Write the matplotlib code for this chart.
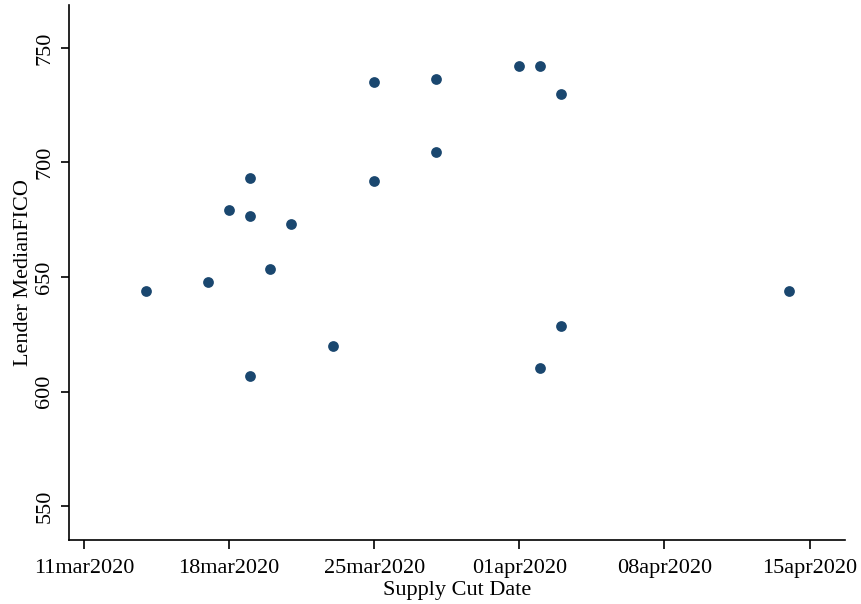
import numpy as np
import matplotlib
matplotlib.use("Agg")
from matplotlib import pyplot as plt
import matplotlib.dates as mdates

# supply cut dates and lender median FICO
cut_dates = ["2020-03-14", "2020-03-17", "2020-03-18", "2020-03-19", "2020-03-19",
             "2020-03-19", "2020-03-20", "2020-03-21", "2020-03-23", "2020-03-25",
             "2020-03-25", "2020-03-28", "2020-03-28", "2020-04-01", "2020-04-02",
             "2020-04-02", "2020-04-03", "2020-04-03", "2020-04-14"]
median_fico = [643.7, 647.6, 679.4, 693.4, 676.8,
               606.6, 653.7, 673.3, 619.7, 735.2,
               692.0, 736.5, 704.7, 742.2, 742.2,
               610.1, 730.0, 628.4, 643.7]

tick_dates = ["2020-03-11", "2020-03-18", "2020-03-25", "2020-04-01", "2020-04-08", "2020-04-15"]
tick_labels = ["11mar2020", "18mar2020", "25mar2020", "01apr2020", "08apr2020", "15apr2020"]
y_ticks = [550, 600, 650, 700, 750]

plt.rcParams["font.family"] = ["Liberation Serif", "DejaVu Serif"]

x = mdates.date2num(np.array(cut_dates, dtype="datetime64[D]"))
xt = mdates.date2num(np.array(tick_dates, dtype="datetime64[D]"))

fig = plt.figure(figsize=(8.62, 6.04), dpi=100)
ax = fig.add_axes([0.080, 0.106, 0.900, 0.886])

ax.scatter(x, median_fico, s=60, color="#1a476f", zorder=3, linewidths=0)

ax.set_xticks(xt)
ax.set_xticklabels(tick_labels)
ax.set_yticks(y_ticks)
ax.set_xlim(xt[0] - 0.72, xt[0] + 36.7)
ax.set_ylim(535.2, 768.8)

for sp in ["top", "right"]:
    ax.spines[sp].set_visible(False)
for sp in ["left", "bottom"]:
    ax.spines[sp].set_linewidth(1.2)

ax.tick_params(axis="x", direction="out", length=6.5, width=1.2, labelsize=16, pad=7.5)
ax.tick_params(axis="y", direction="out", length=5.5, width=1.2, labelsize=16, pad=5)
plt.setp(ax.get_yticklabels(), rotation=90, va="center")

ax.set_xlabel("Supply Cut Date", fontsize=16, labelpad=2)
ax.set_ylabel("Lender MedianFICO", fontsize=16, labelpad=1.5)

fig.savefig("out.png", dpi=100)
